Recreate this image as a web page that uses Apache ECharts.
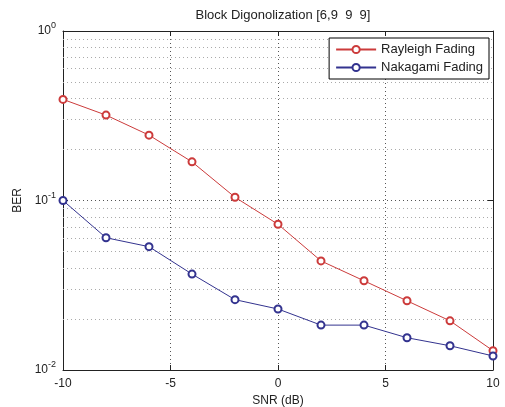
<!DOCTYPE html>
<html>
<head>
<meta charset="utf-8">
<script src="https://cdn.jsdelivr.net/npm/echarts@6/dist/echarts.min.js"></script>
<style>
  html, body { margin: 0; background: #fff; }
  #chart { width: 505px; height: 407px; }
</style>
</head>
<body>
<div id="chart"></div>
<script>
const snr = [-10, -8, -6, -4, -2, 0, 2, 4, 6, 8, 10];
const rayleigh = [0.395, 0.319, 0.243, 0.169, 0.1045, 0.0724, 0.044, 0.0336, 0.0256, 0.0195, 0.013];
const nakagami = [0.1, 0.0603, 0.0534, 0.0368, 0.026, 0.0229, 0.0184, 0.0184, 0.0155, 0.0139, 0.0121];
const minorTicks = [0.02, 0.03, 0.04, 0.05, 0.06, 0.07, 0.08, 0.09, 0.2, 0.3, 0.4, 0.5, 0.6, 0.7, 0.8, 0.9];

const chart = echarts.init(document.getElementById("chart"));
const font = "Liberation Sans, Arial, sans-serif";

const pair = (ys) => snr.map((x, i) => [x, ys[i]]);

const option = {
  animation: false,
  backgroundColor: "#fff",
  textStyle: { fontFamily: font },
  title: {
    text: "Block Digonolization [6,9  9  9]",
    left: 278,
    textAlign: "center",
    top: 4,
    textStyle: { fontSize: 13, fontWeight: "normal", color: "#222", fontFamily: font },
  },
  legend: {
    orient: "vertical",
    top: 38,
    right: 16,
    backgroundColor: "#fff",
    borderColor: "#000",
    borderWidth: 1,
    padding: [5, 6, 5, 6],
    itemGap: 5,
    itemWidth: 40,
    itemHeight: 9,
    textStyle: { fontSize: 13, color: "#222", fontFamily: font },
    data: ["Rayleigh Fading", "Nakagami Fading"],
  },
  grid: { left: 63, right: 12, top: 31, bottom: 37, outerBoundsMode: "none", containLabel: false },
  xAxis: [
    {
      type: "value",
      min: -10,
      max: 10,
      interval: 5,
      name: "SNR (dB)",
      nameLocation: "middle",
      nameGap: 24,
      nameTextStyle: { fontSize: 12, color: "#222" },
      axisLine: { onZero: false, lineStyle: { color: "#222" } },
      axisTick: { inside: true, length: 5, lineStyle: { color: "#222" } },
      axisLabel: { fontSize: 12, color: "#222", margin: 8 },
      splitLine: { show: true, lineStyle: { color: "#555", type: [1, 3] } },
    },
    {
      type: "value",
      position: "top",
      min: -10,
      max: 10,
      interval: 5,
      axisLine: { onZero: false, lineStyle: { color: "#222" } },
      axisTick: { inside: true, length: 5, lineStyle: { color: "#222" } },
      axisLabel: { show: false },
      splitLine: { show: false },
    },
  ],
  yAxis: [
    {
      type: "log",
      logBase: 10,
      min: 0.01,
      max: 1,
      name: "BER",
      nameLocation: "middle",
      nameGap: 39,
      nameTextStyle: { fontSize: 12, color: "#222" },
      axisLine: { show: true, onZero: false, lineStyle: { color: "#222" } },
      axisTick: { inside: true, length: 5, lineStyle: { color: "#222" } },
      axisLabel: {
        fontSize: 12,
        color: "#222",
        margin: 7,
        formatter: (v) => "10{s|" + Math.round(Math.log10(v)) + "}",
        rich: { s: { fontSize: 9, color: "#222", padding: [0, 0, 10, 0] } },
      },
      splitLine: { show: true, lineStyle: { color: "#555", type: [1, 3] } },
    },
    {
      type: "log",
      logBase: 10,
      position: "right",
      min: 0.01,
      max: 1,
      axisLine: { show: true, onZero: false, lineStyle: { color: "#222" } },
      axisTick: { inside: true, length: 5, lineStyle: { color: "#222" } },
      axisLabel: { show: false },
      splitLine: { show: false },
    },
  ],
  series: [
    {
      name: "Rayleigh Fading",
      type: "line",
      data: pair(rayleigh),
      symbol: "emptyCircle",
      symbolSize: 7,
      color: "#cc3b3b",
      lineStyle: { width: 1, color: "#cc3b3b" },
      itemStyle: { color: "#cc3b3b", borderColor: "#cc3b3b", borderWidth: 1 },
      markLine: {
        silent: true,
        symbol: "none",
        label: { show: false },
        lineStyle: { color: "#aaa", type: [1, 3], width: 1 },
        data: minorTicks.map((v) => ({ yAxis: v })),
        z: 1,
      },
    },
    {
      name: "Nakagami Fading",
      type: "line",
      data: pair(nakagami),
      symbol: "emptyCircle",
      symbolSize: 7,
      color: "#33338f",
      lineStyle: { width: 1, color: "#33338f" },
      itemStyle: { color: "#33338f", borderColor: "#33338f", borderWidth: 1 },
    },
  ],
};

chart.setOption(option);
window.addEventListener("resize", chart.resize);
</script>
</body>
</html>
